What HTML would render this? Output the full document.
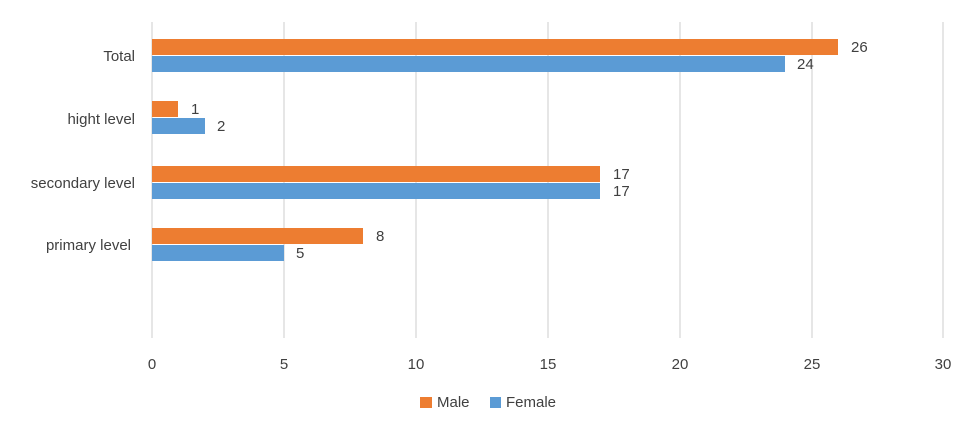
<!DOCTYPE html>
<html><head><meta charset="utf-8"><style>body{margin:0;background:#fff}svg{display:block}text{font-family:"Liberation Sans",sans-serif;fill:#404040}</style></head><body>
<svg width="968" height="425" xmlns="http://www.w3.org/2000/svg">
<g stroke="#d9d9d9" stroke-width="1.3">
<line x1="152" y1="22" x2="152" y2="338"/><line x1="284" y1="22" x2="284" y2="338"/><line x1="416" y1="22" x2="416" y2="338"/><line x1="548" y1="22" x2="548" y2="338"/><line x1="680" y1="22" x2="680" y2="338"/><line x1="812" y1="22" x2="812" y2="338"/><line x1="943" y1="22" x2="943" y2="338"/>
</g>
<g fill="#ed7d31">
<rect x="152" y="39" width="686" height="16"/><rect x="152" y="101" width="26" height="16"/><rect x="152" y="166" width="448" height="16"/><rect x="152" y="228" width="211" height="16"/>
</g>
<g fill="#5b9bd5">
<rect x="152" y="56" width="633" height="16"/><rect x="152" y="118" width="53" height="16"/><rect x="152" y="183" width="448" height="16"/><rect x="152" y="245" width="132" height="16"/>
</g>
<g font-size="15">
<text x="851" y="52">26</text><text x="797" y="69">24</text>
<text x="191" y="114">1</text><text x="217" y="131">2</text>
<text x="613" y="179">17</text><text x="613" y="196">17</text>
<text x="376" y="241">8</text><text x="296" y="258">5</text>
</g>
<g font-size="15" text-anchor="end">
<text x="135" y="61">Total</text><text x="135" y="124">hight level</text><text x="135" y="188">secondary level</text><text x="131" y="250">primary level</text>
</g>
<g font-size="15" text-anchor="middle">
<text x="152" y="369">0</text><text x="284" y="369">5</text><text x="416" y="369">10</text><text x="548" y="369">15</text><text x="680" y="369">20</text><text x="812" y="369">25</text><text x="943" y="369">30</text>
</g>
<rect x="420" y="397" width="12" height="11" fill="#ed7d31"/><text x="437" y="407" font-size="15">Male</text>
<rect x="490" y="397" width="11" height="11" fill="#5b9bd5"/><text x="506" y="407" font-size="15">Female</text>
</svg>
</body></html>
